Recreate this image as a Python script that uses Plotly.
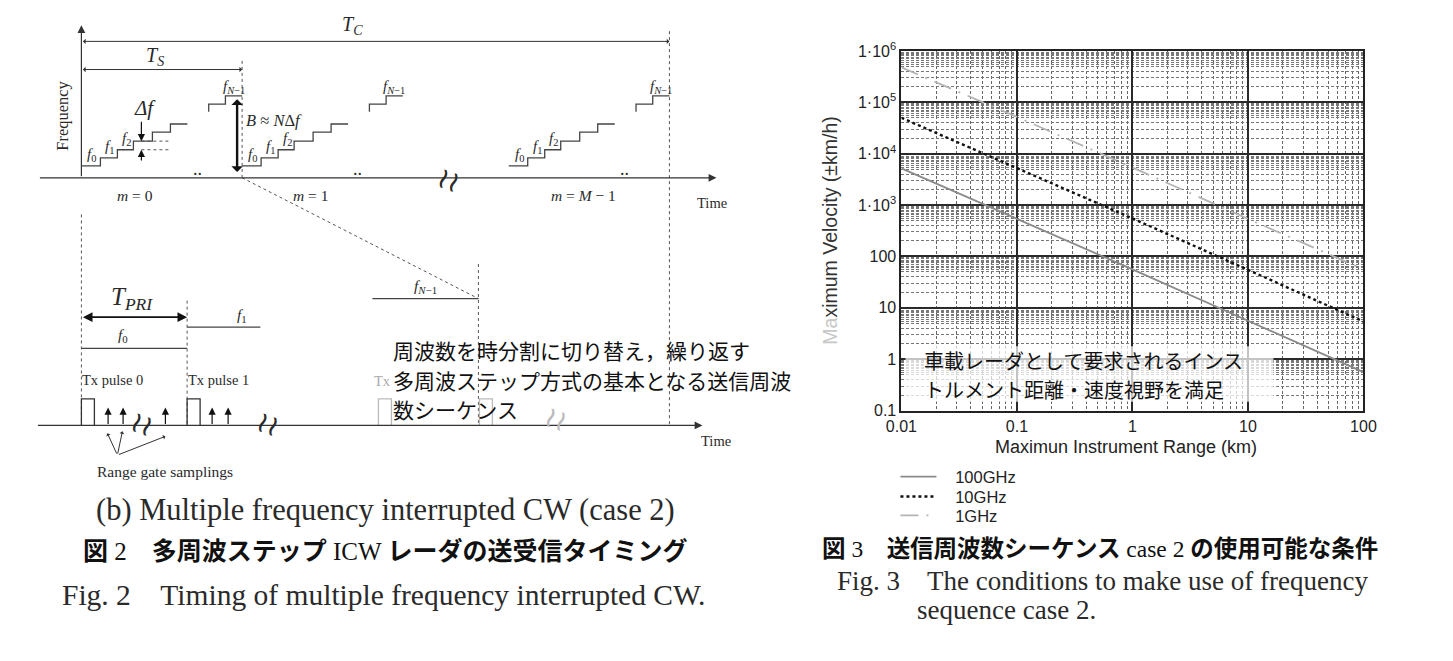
import plotly.graph_objects as go

W, H = 1453, 661

# ---------------- Fig.3 : max velocity vs. instrument range ----------------
inst_range = [0.01, 0.1, 1, 10, 100]
vel_100ghz = [5200, 540, 56, 5.6, 0.56]
vel_10ghz = [50000, 5300, 550, 55, 5.4]
vel_1ghz = [480000, 52000, 5400, 540, 56]

range_ticks = [0.01, 0.1, 1, 10, 100]
range_ticktext = ["0.01", "0.1", "1", "10", "100"]
vel_ticks = [0.1, 1, 10, 100, 1e3, 1e4, 1e5, 1e6]
vel_ticktext = ["0.1", "1", "10", "100", "1·10<sup>3</sup>", "1·10<sup>4</sup>",
                "1·10<sup>5</sup>", "1·10<sup>6</sup>"]

# ---------------- Fig.2 : timing diagram (units = px of the drawing) -------
baseline_top = 176
baseline_low = 426
sweep_start = [81, 241.7, 508.3]                      # m = 0, 1, M-1
sweep_label = ["<i>m</i> = 0", "<i>m</i> = 1", "<i>m</i> = <i>M</i> − 1"]
sweep_label_x = [135, 310, 583]
step_t = [0, 19, 36, 52, 71, 89, 106]                 # step edges in one sweep
step_y = [164, 156, 147.7, 139, 130, 121.7]           # step levels
tail_t = [127.3, 127.3, 144, 160.7]                   # f_{N-1} part of sweep
tail_y = [109.3, 101.7, 93.3, 93.3]
dots_t = 115.7

t_c = [81, 669]
t_s = [81, 241.7]
t_pri = [81, 186.7]
low_lines = [(81, 186.7, 348.3), (186.7, 260, 326.7), (372, 478, 298)]
pulse_t = [81, 186.7, 378, 479]
pulse_col = ["#333", "#333", "#bbb", "#bbb"]
gate_t = [107.7, 122.7, 165, 211.7, 227.7]
dashed = [(241.7, 58, 241.7, 176), (669, 28, 669, 426), (81, 213, 81, 426),
          (186.7, 300, 186.7, 426), (478, 263, 478, 426),
          (241.7, 176, 478, 298), (141, 139, 168, 139), (141, 147.7, 168, 147.7)]

# screen placement: the page is photographed slightly reduced and offset
SX, OX = 0.98, 23.6
SY, OY = 0.979, 15.7


def px(X):
    return (X - OX) / SX / W


def py(Y):
    return 1 - (Y - OY) / SY / H


SERIF = "Liberation Serif"
SANS = "Liberation Sans"
CJK = "Noto Sans CJK JP"
INK = "#2a2a2a"
GAP = "\u00a0" * 3

fig = go.Figure()

# ---- Fig.3 traces
fig.add_trace(go.Scatter(x=inst_range, y=vel_100ghz, mode="lines", name=GAP + "100GHz", legend="legend",
                         line=dict(color="#8a8a8a", width=1.8)))
fig.add_trace(go.Scatter(x=inst_range, y=vel_10ghz, mode="lines", name=GAP + "10GHz", legend="legend2",
                         line=dict(color="#111", width=2.4, dash="dot")))
fig.add_trace(go.Scatter(x=inst_range, y=vel_1ghz, mode="lines", name=GAP + "1GHz", legend="legend3",
                         line=dict(color="#b4b4b4", width=1.8, dash="18px,8px,2px,8px")))

# ---- Fig.2 traces
for s in sweep_start:
    fig.add_trace(go.Scatter(x=[s + t for t in step_t], y=step_y + [step_y[-1]],
                             mode="lines", line=dict(color="#444", width=1.3, shape="hv"),
                             xaxis="x2", yaxis="y2", showlegend=False, hoverinfo="skip"))
    fig.add_trace(go.Scatter(x=[s + t for t in tail_t], y=tail_y,
                             mode="lines", line=dict(color="#444", width=1.3, shape="hv"),
                             xaxis="x2", yaxis="y2", showlegend=False, hoverinfo="skip"))

dx, dy = [], []
for x0, y0, x1, y1 in dashed:
    dx += [x0, x1, None]
    dy += [y0, y1, None]
fig.add_trace(go.Scatter(x=dx, y=dy, mode="lines", line=dict(color="#555", width=1, dash="3px,3px"),
                         xaxis="x2", yaxis="y2", showlegend=False, hoverinfo="skip"))

lx, ly = [], []
for x0, x1, y in low_lines:
    lx += [x0, x1, None]
    ly += [y, y, None]
fig.add_trace(go.Scatter(x=lx, y=ly, mode="lines", line=dict(color="#444", width=1.3),
                         xaxis="x2", yaxis="y2", showlegend=False, hoverinfo="skip"))

for p, c in zip(pulse_t, pulse_col):
    fig.add_trace(go.Scatter(x=[p, p, p + 13, p + 13], y=[baseline_low, 399.3, 399.3, baseline_low],
                             mode="lines", line=dict(color=c, width=1.3),
                             xaxis="x2", yaxis="y2", showlegend=False, hoverinfo="skip"))

ann = []


def arrow(x, y, ax, ay, head=2, size=1.0, width=1.2, side="end", color="#333"):
    ann.append(dict(x=x, y=y, ax=ax, ay=ay, xref="x2", yref="y2", axref="x2", ayref="y2",
                    text="", showarrow=True, arrowhead=head, startarrowhead=head,
                    arrowsize=size, startarrowsize=size, arrowwidth=width,
                    arrowside=side, arrowcolor=color))


def label(x, y, text, size=15, color=INK, angle=0, family=SERIF, xanchor="center"):
    ann.append(dict(x=x, y=y, xref="x2", yref="y2", text=text, showarrow=False,
                    font=dict(family=family, size=size, color=color), textangle=angle,
                    xanchor=xanchor, yanchor="middle"))


# axes of the diagram
arrow(81, 22, 81, baseline_top, head=2, size=1.3)
arrow(716, baseline_top, 38, baseline_top, head=2, size=1.3)
arrow(702, baseline_low, 36, baseline_low, head=2, size=1.3)
# time spans
arrow(t_c[1], 38.3, t_c[0], 38.3, head=1, size=0.9, width=1, side="end+start")
arrow(t_s[1], 66.7, t_s[0], 66.7, head=1, size=0.9, width=1, side="end+start")
arrow(t_pri[1], 316.7, t_pri[0], 316.7, head=2, size=1.2, width=1.6, side="end+start", color="#111")
# bandwidth + step
arrow(236.7, 96.7, 236.7, 171.7, head=1, size=0.8, width=2.4, side="end+start", color="#111")
arrow(141, 139, 141, 118, head=2, size=1.2, width=1.2, color="#111")
arrow(141, 147.7, 141, 160, head=2, size=1.2, width=1.2, color="#111")
# range gate samplings
for g in gate_t:
    arrow(g, 408, g, baseline_low, head=2, size=1.2, width=1.2, color="#111")
for hx, hy in [(107, 434), (122, 432), (165, 437)]:
    arrow(hx, hy, 117, 456, head=1, size=0.8, width=1)

label(352, 22, "<i>T<sub>C</sub></i>", 20)
label(155, 54, "<i>T<sub>S</sub></i>", 20)
label(62, 113, "Frequency", 16.5, angle=-90)
for s, mx, mt in zip(sweep_start, sweep_label_x, sweep_label):
    for i in range(3):
        label(s + (step_t[i] + step_t[i + 1]) / 2 + 1, step_y[i] - 11,
              "<i>f</i><sub>%d</sub>" % i, 15)
    label(s + (tail_t[2] + tail_t[3]) / 2, tail_y[3] - 9, "<i>f<sub>N</sub></i><sub>−1</sub>", 15)
    label(s + dots_t, 167, "..", 18)
    label(mx, 194, mt, 15.5)
label(145, 106, "<i>Δf</i>", 21)
label(244, 118, "<i>B</i> ≈ <i>N</i>Δ<i>f</i>", 16.5, xanchor="left")
label(712, 201, "Time", 14.5)
label(716, 442, "Time", 14.5)
label(131.7, 298, "<i>T<sub>PRI</sub></i>", 25)
label(122.7, 335, "<i>f</i><sub>0</sub>", 15.5)
label(241.7, 315, "<i>f</i><sub>1</sub>", 15.5)
label(425, 286, "<i>f<sub>N</sub></i><sub>−1</sub>", 15.5)
label(111.7, 380, "Tx pulse 0", 14.5)
label(218, 380, "Tx pulse 1", 14.5)
label(382, 381, "Tx", 14.5, color="#aaa")
label(165, 473, "Range gate samplings", 15.5)
# broken-axis marks
for wx, wy, wc in [(449, 178, INK), (142, 425, INK), (268, 425, INK), (556, 420, "#bbb")]:
    label(wx, wy, "≀≀", 29, color=wc, angle=20, family="DejaVu Sans")

# Japanese note on diagram
for y, txt in [(350, "周波数を時分割に切り替え，繰り返す"),
               (380, "多周波ステップ方式の基本となる送信周波"),
               (409, "数シーケンス")]:
    label(391, y, txt, 21, color="#111", family=CJK, xanchor="left")


# ---- paper texts (captions, fig.3 titles)
def ptext(x, y, text, size, family, color=INK, xanchor="center", angle=0):
    ann.append(dict(x=px(x), y=py(y), xref="paper", yref="paper", text=text,
                    showarrow=False, font=dict(family=family, size=size, color=color),
                    xanchor=xanchor, yanchor="middle", textangle=angle))


CAP = SERIF + ", " + CJK
ptext(385, 511, "(b) Multiple frequency interrupted CW (case 2)", 30.5, CAP)
ptext(385, 553, "<b>図</b> 2　<b>多周波ステップ</b> ICW <b>レーダの送受信タイミング</b>", 25, CAP, color="#111")
ptext(383, 597, "Fig. 2　Timing of multiple frequency interrupted CW.", 29.5, CAP)
ptext(1100, 551, "<b>図</b> 3　<b>送信周波数シーケンス</b> case 2 <b>の使用可能な条件</b>", 23.5, CAP, color="#111")
ptext(835, 583, "Fig. 3　The conditions to make use of frequency", 27, CAP, xanchor="left")
ptext(915, 612, "sequence case 2.", 27, CAP, xanchor="left")

ptext(1126, 448, "Maximun Instrument Range (km)", 18, SANS, color="#222")
ptext(830, 229, "<span style='color:#c8c8c8'>Ma</span>ximum Velocity (±km/h)", 19.5, SANS,
      color="#333", angle=-90)

# note inside Fig.3
ptext(922, 360.5, "車載レーダとして要求されるインス", 20, CJK, color="#111", xanchor="left")
ptext(922, 390, "トルメント距離・速度視野を満足", 20, CJK, color="#111", xanchor="left")

# minor grid positions of the log-log chart
x_minor = [d * k for d in [0.01, 0.1, 1, 10] for k in range(2, 10)]
y_minor = [d * k for d in [0.1, 1, 10, 100, 1e3, 1e4, 1e5]
           for k in [2, 3, 4, 5, 5.5, 6, 6.5, 7, 7.5, 8, 8.5, 9, 9.5]]

axis_font = dict(family=SANS, size=16, color="#222")
leg_common = dict(xanchor="left", yanchor="middle", bgcolor="rgba(0,0,0,0)", itemwidth=36,
                  font=dict(family=SANS, size=16.5, color="#222"))
fig.update_layout(
    width=W, height=H, margin=dict(l=0, r=0, t=0, b=0),
    paper_bgcolor="white", plot_bgcolor="white",
    xaxis=dict(type="log", domain=[px(901), px(1363)], range=[-2, 2],
               tickmode="array", tickvals=range_ticks, ticktext=range_ticktext,
               tickfont=axis_font, ticks="",
               showgrid=True, gridcolor="#2a2a2a", gridwidth=1.6,
               minor=dict(tickvals=x_minor, showgrid=True, gridcolor="#666", gridwidth=1,
                          griddash="3px,2px"),
               showline=True, mirror=True, linecolor="#222", linewidth=2, anchor="y"),
    yaxis=dict(type="log", domain=[py(411), py(48)], range=[-1, 6],
               tickmode="array", tickvals=vel_ticks, ticktext=vel_ticktext,
               tickfont=axis_font, ticks="", showgrid=True, gridcolor="#2a2a2a", gridwidth=1.6,
               minor=dict(tickvals=y_minor, showgrid=True, gridcolor="#777", gridwidth=1,
                          griddash="3px,2px"),
               showline=True, mirror=True, linecolor="#222", linewidth=2, anchor="x"),
    xaxis2=dict(domain=[0, 828 / W], range=[OX, OX + SX * 828], visible=False, anchor="y2"),
    yaxis2=dict(domain=[0, 1], range=[OY + SY * H, OY], visible=False, anchor="x2"),
    legend=dict(x=px(895), y=py(478), **leg_common),
    legend2=dict(x=px(895), y=py(498), **leg_common),
    legend3=dict(x=px(895), y=py(517), **leg_common),
    shapes=[dict(type="rect", xref="paper", yref="paper", x0=px(905), x1=px(1273),
                 y0=py(402), y1=py(346), fillcolor="rgba(255,255,255,0.72)",
                 line=dict(width=0), layer="above")],
    annotations=ann,
)

fig.write_html("out.html")
